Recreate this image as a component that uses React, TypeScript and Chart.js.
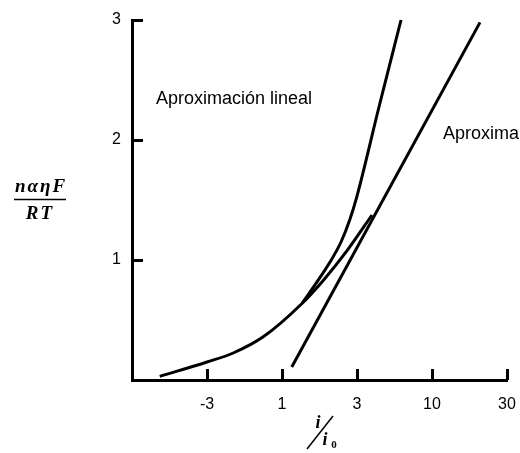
import React, { useEffect, useRef } from 'react';
import { Chart, registerables } from 'chart.js';

Chart.register(...registerables);

// Axis ticks
const xTickPositions = [1, 2, 3, 4, 5];
const xTickLabels = ['-3', '1', '3', '10', '30'];
const yTicks = [1, 2, 3];

// Main curve (with the lower branch joining the Tafel line)
const mainX = [0.37, 1.0, 1.35, 1.75, 2.27, 2.55, 2.87, 3.2];
const mainY = [0.03, 0.15, 0.225, 0.36, 0.64, 0.83, 1.08, 1.375];

// Steep branch
const steepX = [2.27, 2.467, 2.64, 2.787, 2.907, 3.0, 3.293, 3.587];
const steepY = [0.64, 0.817, 0.983, 1.15, 1.342, 1.533, 2.275, 3.0];

// Straight (Tafel) line
const tafelX = [2.13, 4.64];
const tafelY = [0.108, 2.98];

// Text annotations (in data units)
const noteTexts = ['Aproximación lineal', 'Aproxima'];
const noteX = [0.32, 4.147];
const noteY = [2.34, 2.05];

const toPts = (xs: number[], ys: number[]) => xs.map((x, i) => ({ x, y: ys[i] }));

export default function App() {
  const ref = useRef<HTMLCanvasElement>(null);

  useEffect(() => {
    const canvas = ref.current!;
    const overlay = {
      id: 'overlay',
      afterDraw(chart: any) {
        const ctx = chart.ctx;
        const xs = chart.scales.x;
        const ys = chart.scales.y;
        const area = chart.chartArea;
        ctx.save();
        ctx.strokeStyle = '#000';
        ctx.fillStyle = '#000';
        ctx.lineWidth = 3;
        // inward tick marks
        yTicks.forEach((v) => {
          const py = Math.round(ys.getPixelForValue(v)) + 0.5;
          ctx.beginPath();
          ctx.moveTo(area.left, py);
          ctx.lineTo(area.left + 11, py);
          ctx.stroke();
        });
        xTickPositions.forEach((v) => {
          const px = Math.round(xs.getPixelForValue(v)) + 0.5;
          ctx.beginPath();
          ctx.moveTo(px, area.bottom);
          ctx.lineTo(px, area.bottom - 11);
          ctx.stroke();
        });
        // annotations
        ctx.font = '18px "Liberation Sans", Arial, sans-serif';
        ctx.textAlign = 'left';
        ctx.textBaseline = 'middle';
        noteTexts.forEach((t, i) => {
          ctx.fillText(t, xs.getPixelForValue(noteX[i]), ys.getPixelForValue(noteY[i]));
        });
        // y axis title: fraction
        ctx.font = 'italic bold 19px "Liberation Serif", "Times New Roman", serif';
        ctx.textAlign = 'center';
        try { (ctx as any).letterSpacing = '2px'; } catch (e) {}
        ctx.fillText('nαηF', 41, 187);
        ctx.fillText('RT', 40, 214);
        try { (ctx as any).letterSpacing = '0px'; } catch (e) {}
        ctx.lineWidth = 1.5;
        ctx.beginPath();
        ctx.moveTo(14, 199.5);
        ctx.lineTo(66, 199.5);
        ctx.stroke();
        // x axis title: i / i0
        ctx.font = 'italic bold 18px "Liberation Serif", "Times New Roman", serif';
        ctx.fillText('i', 318, 423);
        ctx.fillText('i', 325, 440);
        ctx.font = 'bold 11px "Liberation Serif", "Times New Roman", serif';
        ctx.fillText('0', 334, 445);
        ctx.lineWidth = 1.5;
        ctx.beginPath();
        ctx.moveTo(333, 416);
        ctx.lineTo(307, 449);
        ctx.stroke();
        ctx.restore();
      },
    };

    const lineDs = (data: any[], mono: boolean) => ({
      data,
      borderColor: '#000',
      borderWidth: 3,
      pointRadius: 0,
      fill: false,
      tension: mono ? 0.4 : 0,
      cubicInterpolationMode: mono ? 'monotone' : 'default',
      clip: false as any,
    });

    const chart = new Chart(canvas, {
      type: 'line',
      data: {
        datasets: [
          lineDs(toPts(mainX, mainY), true),
          lineDs(toPts(steepX, steepY), true),
          lineDs(toPts(tafelX, tafelY), false),
        ] as any,
      },
      options: {
        responsive: false,
        animation: false,
        devicePixelRatio: 1,
        layout: { padding: { left: 0, top: 20, right: 13, bottom: 0 } },
        plugins: { legend: { display: false }, tooltip: { enabled: false } },
        scales: {
          x: {
            type: 'linear',
            min: 0,
            max: 5,
            afterBuildTicks: (s: any) => {
              s.ticks = xTickPositions.map((v) => ({ value: v }));
            },
            afterFit: (s: any) => {
              s.height = 73;
              s.paddingLeft = 0;
              s.paddingRight = 0;
            },
            grid: { display: false, drawTicks: false },
            border: { display: true, width: 3, color: '#000' },
            ticks: {
              padding: 15,
              color: '#000',
              maxRotation: 0,
              autoSkip: false,
              font: { family: '"Liberation Sans", Arial, sans-serif', size: 16 },
              callback: (v: any) => {
                const i = xTickPositions.indexOf(Number(v));
                return i >= 0 ? xTickLabels[i] : '';
              },
            },
          },
          y: {
            type: 'linear',
            min: 0,
            max: 3,
            afterBuildTicks: (s: any) => {
              s.ticks = yTicks.map((v) => ({ value: v }));
            },
            afterFit: (s: any) => {
              s.width = 132;
              s.paddingTop = 0;
              s.paddingBottom = 0;
            },
            grid: { display: false, drawTicks: false },
            border: { display: true, width: 3, color: '#000' },
            ticks: {
              padding: 11,
              color: '#000',
              font: { family: '"Liberation Sans", Arial, sans-serif', size: 16 },
              callback: (v: any) => String(v),
            },
          },
        },
      } as any,
      plugins: [overlay],
    });
    return () => chart.destroy();
  }, []);

  return (
    <div style={{ position: 'fixed', left: 0, top: 0, width: 520, height: 453, background: '#fff' }}>
      <canvas ref={ref} width={520} height={453} style={{ width: 520, height: 453, display: 'block' }} />
    </div>
  );
}
